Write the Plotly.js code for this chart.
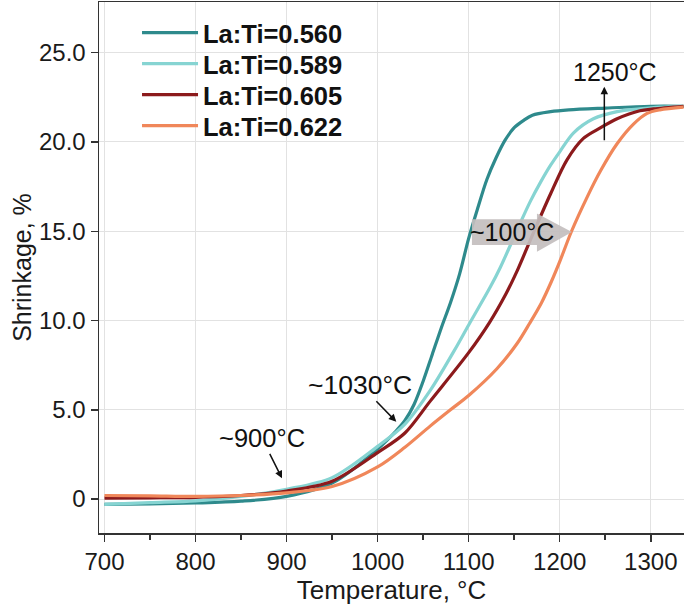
<!DOCTYPE html>
<html>
<head>
<meta charset="utf-8">
<script src="https://cdn.plot.ly/plotly-3.0.1.min.js"></script>
<style>html,body{margin:0;padding:0;background:#fff;}#chart{width:684px;height:605px;}</style>
</head>
<body>
<div id="chart"></div>
<script>
// Series names
const seriesNames = ["La:Ti=0.560", "La:Ti=0.589", "La:Ti=0.605", "La:Ti=0.622"];

// La:Ti=0.560
const tempA = [700,750,800,850,900,950,1000,1020,1030,1040,1050,1060,1070,1080,1090,1100,1110,1120,1130,1140,1150,1160,1170,1190,1210,1250,1300,1336];
const shrinkA = [-0.3,-0.27,-0.22,-0.12,0.15,0.9,2.8,3.8,4.4,5.3,6.6,8.1,9.6,11.0,12.6,14.6,16.3,17.9,19.1,20.1,20.8,21.2,21.5,21.7,21.8,21.9,22.0,22.0];

// La:Ti=0.589
const tempB = [700,750,800,850,900,950,1000,1030,1058,1084,1100,1124,1135,1157,1168,1179,1190,1200,1215,1237,1263,1288,1310,1336];
const shrinkB = [-0.3,-0.2,-0.1,0.15,0.55,1.2,2.95,4.2,6.1,8.3,9.75,11.9,13.0,15.5,16.7,17.75,18.7,19.45,20.5,21.3,21.7,21.85,21.95,22.0];

// La:Ti=0.605
const tempC = [700,750,800,850,900,950,1000,1030,1058,1100,1123,1141,1153,1171,1190,1208,1226,1245,1263,1288,1303,1336];
const shrinkC = [0.05,0.07,0.1,0.2,0.45,1.0,2.6,3.7,5.5,8.2,9.9,11.5,12.75,14.9,17.1,19.0,20.2,20.8,21.3,21.75,21.85,22.0];

// La:Ti=0.622
const tempD = [700,750,800,850,900,950,1000,1030,1058,1080,1100,1131,1153,1167,1180,1191,1200,1213,1230,1245,1263,1281,1296,1310,1336];
const shrinkD = [0.2,0.18,0.15,0.2,0.35,0.7,1.8,2.9,4.1,5.0,5.8,7.3,8.7,9.85,11.0,12.2,13.3,15.0,16.9,18.4,19.9,21.0,21.6,21.8,21.95];

// Tick labels
const xTickVals = [700,800,900,1000,1100,1200,1300];
const yTickVals = [0,5,10,15,20,25];
const yTickText = ["0","5.0","10.0","15.0","20.0","25.0"];

const colors = ["#2e8a8c", "#86d4d2", "#8c1a1c", "#f0875a"];
const xs = [tempA, tempB, tempC, tempD];
const ys = [shrinkA, shrinkB, shrinkC, shrinkD];
const legendIds = ["legend", "legend2", "legend3", "legend4"];
const legendRowsY = [0.9416, 0.8832, 0.8249, 0.7665];

const traces = seriesNames.map((n, i) => ({
  x: xs[i], y: ys[i], name: n, type: "scatter", mode: "lines",
  legend: legendIds[i],
  line: {color: colors[i], width: 3.2, shape: "spline", smoothing: 0.9}
}));

const FONT = "Liberation Sans, Arial, sans-serif";

const layout = {
  width: 684, height: 605,
  margin: {l: 99, r: 0, t: 2, b: 72},
  paper_bgcolor: "#fff", plot_bgcolor: "#fff",
  font: {family: FONT, color: "#1a1a1a"},
  showlegend: true,
  xaxis: {
    range: [694, 1336.5],
    tickvals: xTickVals,
    ticks: "outside", ticklen: 7, tickwidth: 1.5, tickcolor: "#333",
    showline: true, linecolor: "#333", linewidth: 1.5, mirror: true,
    showgrid: true, gridcolor: "#e2e2e2", gridwidth: 1,
    zeroline: false,
    tickfont: {family: FONT, size: 24, color: "#1a1a1a"},
    minor: {dtick: 50, tick0: 700, ticks: "outside", ticklen: 5, tickwidth: 1.5, tickcolor: "#333", showgrid: false},
    title: {text: "Temperature, °C", font: {family: FONT, size: 26, color: "#1a1a1a"}, standoff: 2}
  },
  yaxis: {
    range: [-1.9, 27.84],
    tickvals: yTickVals, ticktext: yTickText,
    ticks: "outside", ticklen: 7, tickwidth: 1.5, tickcolor: "#333",
    showline: true, linecolor: "#333", linewidth: 1.5,
    showgrid: true, gridcolor: "#e2e2e2", gridwidth: 1,
    zeroline: false,
    tickfont: {family: FONT, size: 24, color: "#1a1a1a"},
    title: {text: "Shrinkage, %", font: {family: FONT, size: 25, color: "#1a1a1a"}, standoff: 0}
  },
  shapes: [
    {
      type: "path", xref: "x", yref: "y", layer: "above",
      path: "M1103.6,15.67 L1175,15.67 L1175,16.0 L1213.4,14.96 L1175,13.85 L1175,14.23 L1103.6,14.23 Z",
      fillcolor: "rgba(195,190,190,0.92)", line: {width: 0}
    }
  ],
  annotations: [
    {x: 895, y: 1.16, xref: "x", yref: "y", text: "~900°C", showarrow: true,
     ax: -20, ay: -40, arrowhead: 2, arrowsize: 1, arrowwidth: 1.5, arrowcolor: "#111",
     font: {family: FONT, size: 25.5, color: "#111"}},
    {x: 1020.5, y: 4.33, xref: "x", yref: "y", text: "~1030°C", showarrow: true,
     ax: -36, ay: -37, arrowhead: 2, arrowsize: 1, arrowwidth: 1.5, arrowcolor: "#111",
     font: {family: FONT, size: 26.5, color: "#111"}},
    {x: 1249, y: 23.1, xref: "x", yref: "y", text: "", showarrow: true,
     ax: 0, ay: 55, arrowhead: 2, arrowsize: 1, arrowwidth: 1.5, arrowcolor: "#111"},
    {x: 1261, y: 23.9, xref: "x", yref: "y", text: "1250°C", showarrow: false,
     font: {family: FONT, size: 25, color: "#111"}},
    {x: 1148, y: 14.96, xref: "x", yref: "y", text: "~100°C", showarrow: false,
     font: {family: FONT, size: 25, color: "#111"}}
  ]
};

legendIds.forEach((id, i) => {
  layout[id] = {
    x: 0.065, y: legendRowsY[i], xanchor: "left", yanchor: "middle",
    bgcolor: "rgba(0,0,0,0)",
    font: {family: FONT, size: 25.5, color: "#111", weight: "bold"},
    itemwidth: 56
  };
});

Plotly.newPlot("chart", traces, layout, {displayModeBar: false, staticPlot: true});
</script>
</body>
</html>
